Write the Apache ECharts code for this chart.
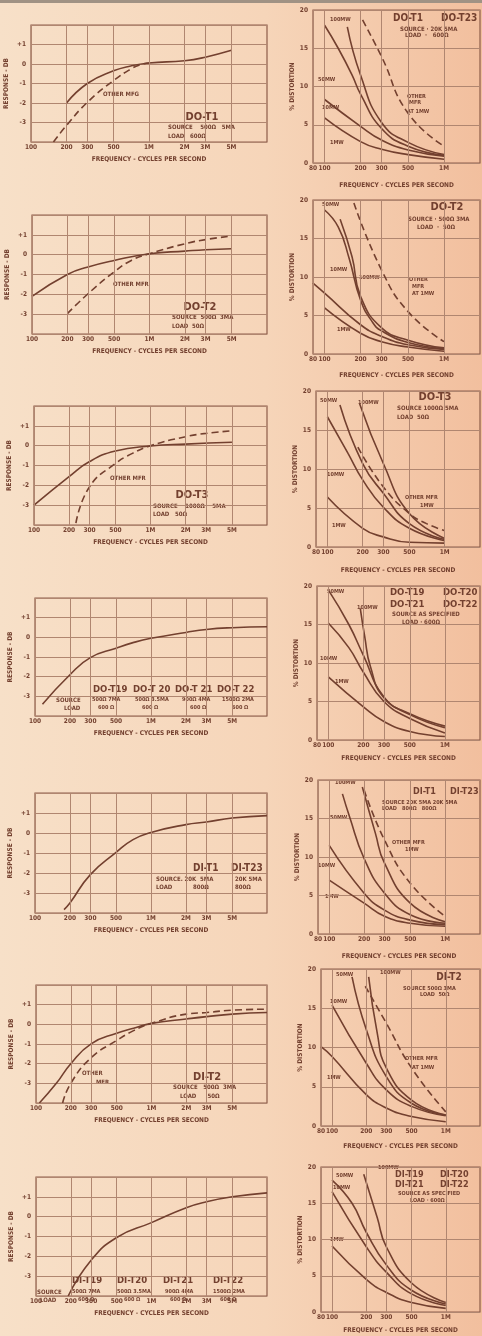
<!DOCTYPE html>
<html>
<head>
<meta charset="utf-8">
<script src="https://cdn.jsdelivr.net/npm/echarts/dist/echarts.min.js"></script>
<style>
  html, body { margin: 0; padding: 0; background: #f5d8bd; }
  #chart { width: 482px; height: 1336px; }
</style>
</head>
<body>
<div id="chart"></div>
<script>
// tick marks on the frequency axes
const leftTicks = [100, 200, 300, 500, 1000, 2000, 3000, 5000];
const leftTickLabels = ['100', '200', '300', '500', '1M', '2M', '3M', '5M'];
const rightTicks = [80, 100, 200, 300, 500, 1000];
const rightTickLabels = ['80', '100', '200', '300', '500', '1M'];

// frequency response (db) - left column, [freq, db]
const l1Resp = [[200,-2.0],[300,-1.0],[500,-0.35],[700,-0.1],[1000,0.05],[2000,0.17],[3000,0.35],[5000,0.7]];
const l1Other = [[155,-4.0],[200,-3.15],[300,-1.97],[500,-0.85],[700,-0.26],[850,-0.03],[1000,0.05]];
const l2Resp = [[100,-2.1],[200,-1.0],[300,-0.62],[500,-0.29],[1000,0.05],[2000,0.18],[3000,0.25],[5000,0.3]];
const l2Other = [[200,-2.97],[300,-1.97],[500,-0.87],[700,-0.29],[1000,0.05],[2000,0.55],[3000,0.76],[5000,0.94]];
const l3Resp = [[100,-3.0],[200,-1.56],[300,-0.8],[500,-0.27],[1000,-0.02],[2000,0.08],[5000,0.17]];
const l3Other = [[229,-3.9],[300,-2.07],[500,-0.9],[700,-0.39],[1000,0.0],[2000,0.45],[3000,0.62],[5000,0.75]];
const l4Resp = [[116,-3.4],[200,-1.9],[300,-1.03],[500,-0.55],[700,-0.27],[1000,-0.05],[2000,0.25],[3000,0.4],[5000,0.49],[10000,0.54]];
const l5Resp = [[178,-3.83],[200,-3.5],[300,-2.08],[500,-0.97],[700,-0.33],[1000,0.03],[2000,0.42],[3000,0.55],[5000,0.75],[10000,0.87]];
const l6Resp = [[107,-4.0],[150,-3.0],[200,-2.0],[300,-0.99],[500,-0.45],[700,-0.2],[1000,0.05],[2000,0.27],[3000,0.39],[5000,0.52],[10000,0.6]];
const l6Other = [[170,-4.0],[200,-3.0],[300,-1.7],[500,-0.82],[700,-0.32],[1000,0.05],[2000,0.52],[3000,0.6],[5000,0.72],[10000,0.77]];
const l7Resp = [[190,-4.0],[300,-2.2],[500,-1.05],[1000,-0.3],[2000,0.45],[3000,0.75],[5000,1.0],[10000,1.2]];

// % distortion - right column, [freq, %]
const r1mw1 = [[100,5.9],[200,2.8],[300,1.8],[500,1.1],[1000,0.5]];
const r1mw10 = [[100,8.3],[200,4.8],[300,3.0],[500,1.7],[1000,0.9]];
const r1mw50 = [[100,18.0],[130,15.0],[170,11.5],[200,9.0],[300,4.5],[500,2.2],[1000,1.0]];
const r1mw100 = [[155,17.8],[200,11.5],[300,5.3],[500,2.7],[1000,1.1]];
const r1Other = [[208,18.7],[300,13.9],[500,6.5],[1000,2.2]];

const r2mw1 = [[100,6.0],[200,2.7],[300,1.6],[500,0.9],[1000,0.35]];
const r2mw10 = [[80,9.2],[100,7.9],[200,3.8],[300,2.3],[500,1.2],[1000,0.6]];
const r2mw50 = [[100,18.7],[130,16.5],[160,12.5],[200,7.0],[250,4.2],[300,3.0],[500,1.5],[1000,0.7]];
const r2mw100 = [[135,17.5],[170,12.6],[200,7.5],[300,3.4],[500,1.8],[1000,0.8]];
const r2Other = [[176,19.6],[300,10.9],[500,5.5],[1000,1.6]];

const r3mw1 = [[100,6.4],[200,2.4],[300,1.3],[500,0.6],[1000,0.5]];
const r3mw10 = [[100,16.7],[150,12.0],[200,8.6],[300,5.1],[500,2.4],[1000,0.8]];
const r3mw50 = [[128,18.2],[200,10.7],[300,6.9],[500,3.0],[1000,0.95]];
const r3mw100 = [[188,18.4],[300,10.7],[500,4.3],[1000,1.1]];
const r3Other = [[182,12.8],[300,7.7],[500,4.3],[700,3.0],[1000,2.1]];

const r4mw1 = [[100,8.2],[200,4.3],[300,2.4],[500,1.1],[1000,0.45]];
const r4mw10 = [[100,15.2],[150,12.0],[200,8.8],[300,5.0],[500,2.8],[1000,0.9]];
const r4mw50 = [[100,19.5],[150,15.0],[200,11.0],[300,5.6],[500,3.3],[1000,1.6]];
const r4mw100 = [[188,17.1],[205,13.5],[230,9.5],[300,5.5],[500,3.4],[1000,1.8]];

const r5mw1 = [[100,7.0],[200,4.0],[300,2.3],[500,1.4],[1000,1.0]];
const r5mw10 = [[100,11.5],[200,5.3],[300,3.1],[500,1.8],[1000,1.2]];
const r5mw50 = [[130,18.2],[150,15.2],[200,9.8],[300,5.3],[500,2.5],[1000,1.4]];
const r5mw100 = [[193,19.1],[250,13.1],[300,9.2],[500,4.0],[1000,1.6]];
const r5Other = [[200,18.7],[300,12.2],[500,6.6],[1000,2.3]];

const r6mw1 = [[80,10.1],[100,8.85],[200,4.0],[300,2.3],[500,1.2],[1000,0.55]];
const r6mw10 = [[100,15.4],[200,8.0],[300,4.6],[500,2.5],[1000,1.3]];
const r6mw50 = [[150,19.0],[200,12.3],[300,6.3],[500,2.9],[1000,1.4]];
const r6mw100 = [[210,19.0],[250,11.8],[300,7.4],[500,3.3],[1000,1.4]];
const r6Other = [[196,17.8],[300,13.1],[500,7.4],[1000,1.8]];

const r7mw1 = [[100,9.1],[200,4.5],[300,2.7],[500,1.3],[1000,0.5]];
const r7mw10 = [[100,16.6],[200,9.0],[300,5.5],[500,2.5],[1000,0.9]];
const r7mw50 = [[100,18.2],[150,15.0],[200,11.0],[300,6.5],[500,3.0],[1000,1.1]];
const r7mw100 = [[190,19.0],[250,13.0],[300,9.0],[500,4.0],[1000,1.3]];

const ink = '#73402f';
const boxInk = '#8e5d4a';
const gridInk = '#b08670';
const font = '"DejaVu Sans Condensed", "Liberation Sans Narrow", "DejaVu Sans", sans-serif';

// where each panel sits on the page
const leftLayout = [
  { left: 31, top: 25, bottom: 142 },
  { left: 32, top: 215, bottom: 334 },
  { left: 34, top: 406, bottom: 525 },
  { left: 35, top: 598, bottom: 716 },
  { left: 35, top: 793, bottom: 913 },
  { left: 36, top: 985, bottom: 1103 },
  { left: 36, top: 1177, bottom: 1296 }
];
const rightLayout = [
  { left: 313, top: 10, bottom: 163, gap: 19 },
  { left: 313, top: 200, bottom: 354, gap: 18 },
  { left: 316, top: 391, bottom: 547, gap: 20 },
  { left: 317, top: 586, bottom: 740, gap: 15 },
  { left: 318, top: 780, bottom: 934, gap: 19 },
  { left: 321, top: 969, bottom: 1126, gap: 17 },
  { left: 321, top: 1167, bottom: 1312, gap: 15 }
];

const leftCurves = [
  [l1Resp, l1Other], [l2Resp, l2Other], [l3Resp, l3Other],
  [l4Resp], [l5Resp], [l6Resp, l6Other], [l7Resp]
];
const rightCurves = [
  [r1mw1, r1mw10, r1mw50, r1mw100, r1Other],
  [r2mw1, r2mw10, r2mw50, r2mw100, r2Other],
  [r3mw1, r3mw10, r3mw50, r3mw100, r3Other],
  [r4mw1, r4mw10, r4mw50, r4mw100],
  [r5mw1, r5mw10, r5mw50, r5mw100, r5Other],
  [r6mw1, r6mw10, r6mw50, r6mw100, r6Other],
  [r7mw1, r7mw10, r7mw50, r7mw100]
];
const leftDashed = [l1Other, l2Other, l3Other, l6Other];
const rightDashed = [r1Other, r2Other, r3Other, r5Other, r6Other];

const grids = [], xAxes = [], yAxes = [], series = [];

function addChart (box, right, xMin, xMax, ticks, tickLabels, yMin, yMax, yStep, yName, yGap, xGap, yFmt, curves, dashed) {
  const i = grids.length;
  grids.push({
    left: box.left, top: box.top,
    width: right - box.left, height: box.bottom - box.top,
    show: true, borderColor: boxInk, borderWidth: 1.2
  });
  xAxes.push({
    gridIndex: i, type: 'log', logBase: 10, min: xMin, max: xMax,
    axisLine: { show: false }, axisTick: { show: false },
    axisLabel: { show: false }, splitLine: { show: false },
    name: 'FREQUENCY - CYCLES PER SECOND', nameLocation: 'middle', nameGap: xGap,
    nameTextStyle: { fontSize: 6.5, fontWeight: 'bold', color: ink, fontFamily: font }
  });
  yAxes.push({
    gridIndex: i, type: 'value', min: yMin, max: yMax, interval: yStep,
    axisLine: { show: false }, axisTick: { show: false },
    axisLabel: { formatter: yFmt, fontSize: 6.5, fontWeight: 'bold', color: ink, margin: 5, fontFamily: font },
    splitLine: { lineStyle: { color: gridInk, width: 1 } },
    name: yName, nameLocation: 'middle', nameGap: yGap,
    nameTextStyle: { fontSize: 6.5, fontWeight: 'bold', color: ink, fontFamily: font }
  });
  curves.forEach((c, k) => {
    const isDashed = dashed.indexOf(c) >= 0;
    const s = {
      type: 'line', xAxisIndex: i, yAxisIndex: i, data: c,
      smooth: 0.5, showSymbol: false, silent: true,
      lineStyle: { color: ink, width: 1.6, type: isDashed ? [7, 4] : 'solid' }
    };
    if (k === 0) {
      s.markLine = {
        silent: true, symbol: 'none', animation: false,
        lineStyle: { color: gridInk, width: 1, type: 'solid' },
        label: { show: true, position: 'start', distance: 2, fontSize: 6.5, fontWeight: 'bold', color: ink, fontFamily: font },
        data: ticks.map((f, n) => ({ xAxis: f, label: { formatter: tickLabels[n] } }))
      };
    }
    series.push(s);
  });
}

leftLayout.forEach((box, r) => {
  addChart(box, 267, 100, 10000, leftTicks, leftTickLabels, -4, 2, 1,
    'RESPONSE - DB', 21, 14,
    v => v === 1 ? '+1' : (v === 2 || v === -4) ? '' : String(v),
    leftCurves[r], leftDashed);
});
rightLayout.forEach((box, r) => {
  addChart(box, 480, 80, 2000, rightTicks, rightTickLabels, 0, 20, 5,
    '% DISTORTION', 13, box.gap,
    v => String(v),
    rightCurves[r], rightDashed);
});

// printed notes on the panels
const notes = [];
function T (x, y, text, size, align) {
  notes.push({
    type: 'text', x: x, y: y, silent: true,
    style: {
      text: text, fill: ink, font: 'bold ' + (size || 5.5) + 'px ' + font,
      textAlign: align || 'left', textVerticalAlign: 'middle'
    }
  });
}
// left column
T(103, 94, 'OTHER MFG', 6); T(202, 117, 'DO-T1', 11, 'center');
T(168, 127, 'SOURCE    500Ω   5MA', 6); T(168, 136, 'LOAD   600Ω', 6);
T(113, 284, 'OTHER MFR', 6); T(200, 307, 'DO-T2', 11, 'center');
T(172, 317, 'SOURCE  500Ω  3MA', 6); T(172, 326, 'LOAD  50Ω', 6);
T(110, 478, 'OTHER MFR', 6); T(192, 495, 'DO-T3', 11, 'center');
T(153, 506, 'SOURCE    1000Ω    5MA', 6); T(153, 514, 'LOAD   50Ω', 6);
T(93, 690, 'DO-T19', 9.5); T(133, 690, 'DO-T 20', 9.5); T(175, 690, 'DO-T 21', 9.5); T(217, 690, 'DO-T 22', 9.5);
T(56, 700, 'SOURCE', 6); T(92, 700, '500Ω 7MA'); T(135, 700, '500Ω 3.5MA'); T(182, 700, '900Ω 4MA'); T(222, 700, '1500Ω 2MA');
T(64, 708, 'LOAD', 6); T(98, 708, '600 Ω'); T(142, 708, '600 Ω'); T(190, 708, '600 Ω'); T(232, 708, '600 Ω');
T(193, 868, 'DI-T1', 10); T(231, 868, 'DI-T23', 10);
T(156, 879, 'SOURCE. 20K  5MA', 6); T(235, 879, '20K 5MA', 6);
T(156, 887, 'LOAD', 6); T(193, 887, '800Ω', 6); T(235, 887, '800Ω', 6);
T(82, 1073, 'OTHER', 6); T(96, 1082, 'MFR', 6); T(207, 1077, 'DI-T2', 11, 'center');
T(173, 1087, 'SOURCE   500Ω  3MA', 6); T(180, 1096, 'LOAD      50Ω', 6);
T(72, 1281, 'DI-T19', 9.5); T(117, 1281, 'DI-T20', 9.5); T(163, 1281, 'DI-T21', 9.5); T(213, 1281, 'DI-T22', 9.5);
T(37, 1292, 'SOURCE', 6); T(72, 1292, '500Ω 7MA'); T(117, 1292, '500Ω 3.5MA'); T(165, 1292, '900Ω 4MA'); T(213, 1292, '1500Ω 2MA');
T(40, 1300, 'LOAD', 6); T(78, 1300, '600 Ω'); T(124, 1300, '600 Ω'); T(170, 1300, '600 Ω'); T(220, 1300, '600 Ω');
// right column
T(393, 18, 'DO-T1', 10); T(441, 18, 'DO-T23', 10);
T(400, 29, 'SOURCE · 20K 5MA', 6); T(405, 35, 'LOAD  ·   600Ω', 6);
T(330, 20, '100MW'); T(318, 80, '50MW'); T(322, 108, '10MW'); T(330, 143, '1MW');
T(407, 97, 'OTHER'); T(409, 103, 'MFR'); T(407, 112, 'AT 1MW');
T(447, 207, 'DO-T2', 11, 'center'); T(408, 219, 'SOURCE · 500Ω 3MA', 6); T(417, 227, 'LOAD  ·  50Ω', 6);
T(322, 205, '50MW'); T(330, 270, '10MW'); T(359, 278, '100MW'); T(337, 330, '1MW');
T(409, 280, 'OTHER'); T(412, 287, 'MFR'); T(412, 294, 'AT 1MW');
T(435, 397, 'DO-T3', 11, 'center'); T(397, 408, 'SOURCE 1000Ω 5MA', 6); T(397, 417, 'LOAD  50Ω', 6);
T(320, 401, '50MW'); T(358, 403, '100MW'); T(327, 475, '10MW'); T(332, 526, '1MW');
T(405, 498, 'OTHER MFR'); T(420, 506, '1MW');
T(390, 593, 'DO-T19', 9.5); T(443, 593, 'DO-T20', 9.5); T(390, 605, 'DO-T21', 9.5); T(443, 605, 'DO-T22', 9.5);
T(392, 614, 'SOURCE AS SPECIFIED', 6); T(402, 622, 'LOAD · 600Ω', 6);
T(327, 592, '50MW'); T(357, 608, '100MW'); T(320, 659, '10MW'); T(335, 682, '1MW');
T(413, 792, 'DI-T1', 9); T(450, 792, 'DI-T23', 9);
T(382, 803, 'SOURCE 20K 5MA 20K 5MA'); T(382, 809, 'LOAD   800Ω   800Ω');
T(335, 783, '100MW'); T(330, 818, '50MW'); T(318, 866, '10MW'); T(325, 897, '1MW');
T(392, 843, 'OTHER MFR'); T(405, 850, '1MW');
T(449, 977, 'DI-T2', 10, 'center'); T(403, 989, 'SOURCE 500Ω 3MA'); T(420, 995, 'LOAD  50Ω');
T(336, 975, '50MW'); T(380, 973, '100MW'); T(330, 1002, '10MW'); T(327, 1078, '1MW');
T(405, 1059, 'OTHER MFR'); T(412, 1068, 'AT 1MW');
T(395, 1175, 'DI-T19', 9); T(440, 1175, 'DI-T20', 9); T(395, 1185, 'DI-T21', 9); T(440, 1185, 'DI-T22', 9);
T(398, 1194, 'SOURCE AS SPECIFIED'); T(410, 1201, 'LOAD · 600Ω');
T(336, 1176, '50MW'); T(378, 1168, '100MW'); T(333, 1188, '10MW'); T(330, 1240, '1MW');

notes.unshift({ type: 'rect', silent: true, shape: { x: 0, y: 0, width: 482, height: 3 }, style: { fill: '#a09284' } });

const myChart = echarts.init(document.getElementById('chart'), null, { renderer: 'canvas' });
myChart.setOption({
  animation: false,
  backgroundColor: {
    type: 'linear', x: 0, y: 0, x2: 1, y2: 0,
    colorStops: [
      { offset: 0, color: '#f7e0c8' },
      { offset: 0.55, color: '#f6d5b9' },
      { offset: 1, color: '#f2bf9e' }
    ]
  },
  grid: grids,
  xAxis: xAxes,
  yAxis: yAxes,
  series: series,
  graphic: notes
});
</script>
</body>
</html>
